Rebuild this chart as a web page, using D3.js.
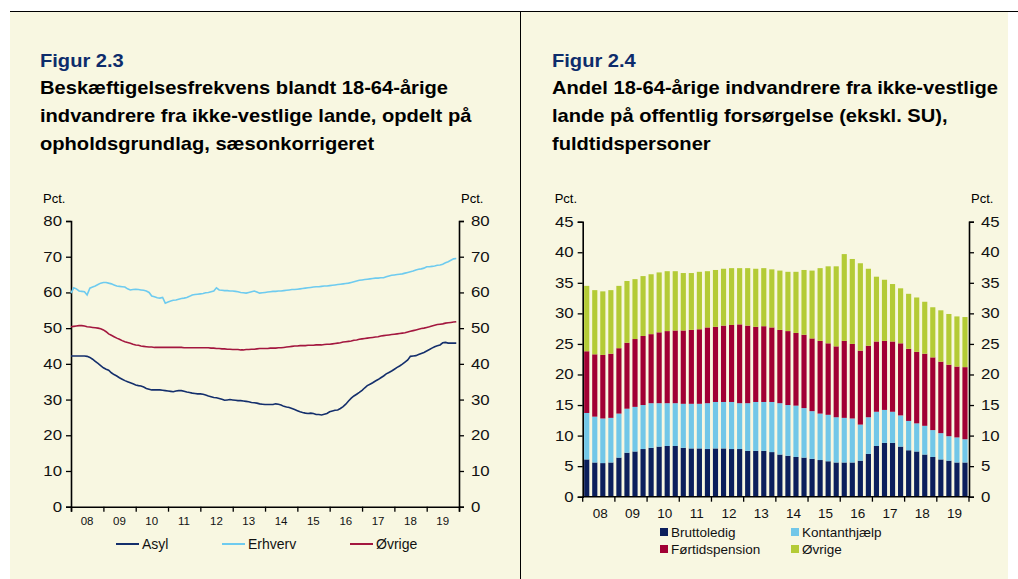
<!DOCTYPE html>
<html>
<head>
<meta charset="utf-8">
<script src="https://cdnjs.cloudflare.com/ajax/libs/d3/7.8.5/d3.min.js"></script>
<style>
  body { margin: 0; background: #fff; }
  svg { display: block; font-family: "Liberation Sans", Arial, sans-serif; }
</style>
</head>
<body>
<div id="chart"></div>
<script>
// Figur 2.3 - monthly 2008-2019, pct.
var years = ["08", "09", "10", "11", "12", "13", "14", "15", "16", "17", "18", "19"];

var asyl = [
  42.2, 42.2, 42.2, 42.2, 42.2, 42.2, 42.1, 41.8, 41.3, 40.7, 40.1, 39.5,
  38.9, 38.5, 38.2, 37.5, 37.0, 36.6, 36.1, 35.7, 35.3, 35.0, 34.7, 34.4,
  34.1, 33.9, 33.8, 33.5, 33.1, 32.9, 32.7, 32.7, 32.7, 32.7, 32.6, 32.5,
  32.4, 32.3, 32.2, 32.4, 32.5, 32.5, 32.3, 32.1, 32.0, 31.8, 31.7, 31.6,
  31.6, 31.5, 31.3, 31.0, 30.8, 30.6, 30.5, 30.3, 30.1, 29.8, 29.9, 30.0,
  29.9, 29.8, 29.7, 29.7, 29.6, 29.5, 29.4, 29.2, 29.1, 29.0, 28.8, 28.7,
  28.6, 28.6, 28.6, 28.6, 28.8, 28.7, 28.5, 28.1, 27.9, 27.8, 27.5, 27.2,
  26.9, 26.6, 26.4, 26.2, 26.1, 26.2, 26.1, 25.8, 25.8, 25.7, 25.9, 26.1,
  26.6, 26.8, 27.0, 27.1, 27.5, 28.0, 28.7, 29.6, 30.4, 31.0, 31.5, 32.0,
  32.6, 33.3, 33.9, 34.3, 34.7, 35.2, 35.6, 36.1, 36.6, 37.2, 37.6, 38.0,
  38.5, 39.0, 39.4, 39.9, 40.5, 41.1, 42.1, 42.2, 42.3, 42.6, 42.9, 43.2,
  43.6, 44.0, 44.4, 44.8, 45.1, 45.3, 45.9, 46.0, 45.8, 45.8, 45.8, 45.8
];

var erhverv = [
  59.8, 61.3, 61.0, 60.4, 60.3, 60.2, 59.3, 61.2, 61.5, 61.8, 62.2, 62.6,
  62.8, 62.8, 62.6, 62.4, 62.1, 61.8, 61.7, 61.6, 61.5, 61.0, 60.7, 60.8,
  60.9, 60.8, 60.7, 60.6, 60.4, 60.0, 59.0, 58.8, 58.5, 58.4, 58.6, 57.0,
  57.3, 57.6, 57.8, 57.9, 58.1, 58.3, 58.4, 58.6, 58.9, 59.3, 59.4, 59.5,
  59.6, 59.7, 59.9, 60.0, 60.2, 60.4, 61.3, 60.7, 60.6, 60.5, 60.5, 60.4,
  60.4, 60.3, 60.2, 60.0, 59.9, 59.8, 60.0, 60.2, 60.4, 60.1, 59.8, 59.9,
  60.0, 60.1, 60.2, 60.3, 60.3, 60.4, 60.4, 60.5, 60.6, 60.7, 60.8, 60.8,
  60.9, 61.0, 61.1, 61.2, 61.3, 61.4, 61.5, 61.6, 61.6, 61.7, 61.8, 61.8,
  61.9, 62.0, 62.1, 62.2, 62.3, 62.4, 62.5, 62.6, 62.8, 63.0, 63.2, 63.4,
  63.5, 63.6, 63.7, 63.8, 63.9, 64.0, 64.0, 64.1, 64.1, 64.4, 64.6, 64.8,
  64.9, 65.0, 65.1, 65.2, 65.4, 65.6, 65.8, 66.0, 66.3, 66.5, 66.6, 66.8,
  67.2, 67.2, 67.3, 67.4, 67.6, 67.7, 67.9, 68.3, 68.6, 69.0, 69.4, 69.5
];

var ovrige_line = [
  50.4, 50.5, 50.6, 50.7, 50.7, 50.6, 50.4, 50.3, 50.2, 50.1, 50.0, 49.8,
  49.5, 49.0, 48.4, 48.0, 47.6, 47.2, 46.9, 46.5, 46.2, 46.0, 45.8, 45.5,
  45.3, 45.2, 45.0, 44.9, 44.8, 44.7, 44.7, 44.6, 44.6, 44.6, 44.6, 44.6,
  44.6, 44.6, 44.6, 44.6, 44.6, 44.6, 44.5, 44.5, 44.5, 44.5, 44.5, 44.5,
  44.5, 44.5, 44.5, 44.5, 44.4, 44.4, 44.3, 44.3, 44.2, 44.2, 44.1, 44.1,
  44.0, 44.0, 44.0, 43.9, 43.9, 44.0, 44.0, 44.1, 44.1, 44.2, 44.3, 44.3,
  44.3, 44.3, 44.4, 44.4, 44.4, 44.5, 44.5, 44.6, 44.7, 44.8, 44.9, 45.0,
  45.0, 45.1, 45.1, 45.1, 45.2, 45.2, 45.2, 45.3, 45.3, 45.3, 45.4, 45.5,
  45.5, 45.6, 45.7, 45.8, 45.9, 46.1, 46.2, 46.3, 46.4, 46.6, 46.7, 46.9,
  47.0, 47.1, 47.2, 47.3, 47.4, 47.5, 47.6, 47.8, 47.9, 48.0, 48.1, 48.2,
  48.3, 48.4, 48.5, 48.6, 48.7, 48.9, 49.1, 49.3, 49.5, 49.7, 49.9, 50.0,
  50.2, 50.4, 50.6, 50.8, 51.0, 51.1, 51.2, 51.4, 51.5, 51.6, 51.7, 51.8
];

// Figur 2.4 - quarterly 2008-2019, pct.
var bruttoledig = [6.1, 5.6, 5.5, 5.6, 6.4, 7.2, 7.4, 7.8, 8.0, 8.2, 8.3, 8.3,
  8.0, 7.9, 7.9, 7.8, 7.9, 7.9, 7.8, 7.8, 7.5, 7.5, 7.5, 7.3,
  6.9, 6.7, 6.5, 6.4, 6.2, 6.0, 5.8, 5.6, 5.6, 5.6, 5.9, 7.0,
  8.3, 8.8, 8.8, 8.2, 7.6, 7.4, 6.9, 6.5, 6.1, 5.9, 5.6, 5.6];
var kontanthjaelp = [7.6, 7.5, 7.3, 7.3, 7.2, 7.2, 7.3, 7.2, 7.3, 7.1, 7.0, 7.0,
  7.2, 7.3, 7.3, 7.5, 7.6, 7.6, 7.7, 7.5, 7.8, 8.0, 8.0, 8.2,
  8.4, 8.3, 8.4, 8.1, 7.8, 7.6, 7.6, 7.4, 7.3, 7.2, 5.9, 6.0,
  5.6, 5.4, 5.1, 5.1, 4.8, 4.6, 4.7, 4.4, 4.3, 4.0, 4.1, 3.8];
var fortidspension = [10.1, 10.2, 10.4, 10.5, 10.7, 10.8, 11.1, 11.3, 11.3, 11.6, 11.8, 11.9,
  12.0, 12.1, 12.2, 12.4, 12.3, 12.5, 12.6, 12.9, 12.7, 12.3, 12.4, 12.2,
  12.0, 12.1, 11.9, 12.0, 11.9, 11.9, 11.7, 11.6, 12.6, 12.2, 12.1, 11.7,
  11.5, 11.3, 11.5, 11.8, 11.8, 11.7, 11.8, 11.9, 11.7, 11.7, 11.6, 11.8];
var ovrige_bar = [10.7, 10.5, 10.4, 10.4, 10.2, 10.1, 9.8, 9.8, 9.8, 9.8, 9.8, 9.7,
  9.4, 9.3, 9.4, 9.2, 9.3, 9.3, 9.3, 9.2, 9.4, 9.5, 9.5, 9.5,
  9.7, 9.7, 10.0, 10.6, 11.1, 11.9, 12.6, 13.1, 14.2, 13.9, 14.3, 12.6,
  10.6, 10.0, 9.4, 9.0, 9.0, 8.9, 8.5, 8.2, 8.4, 8.3, 8.2, 8.2];

var line_series = [
  { name: "Asyl", values: asyl, color: "#142f6c" },
  { name: "Erhverv", values: erhverv, color: "#6ecbef" },
  { name: "Øvrige", values: ovrige_line, color: "#a3173f" }
];
var bar_series = [
  { name: "Bruttoledig", values: bruttoledig, color: "#0c1f5c" },
  { name: "Kontanthjælp", values: kontanthjaelp, color: "#72c7e8" },
  { name: "Førtidspension", values: fortidspension, color: "#a10034" },
  { name: "Øvrige", values: ovrige_bar, color: "#b4cb36" }
];

var width = 1018;
var height = 579;
var bg = "#f8f7e1";
var title_blue = "#0d2c6b";
var stretch = 1.2;        // tick text in the source is set a little wide
var title_stretch = 1.15;

var svg = d3.select("#chart").append("svg")
  .attr("width", width)
  .attr("height", height);

svg.append("rect")
  .attr("x", 10).attr("y", 11)
  .attr("width", 998).attr("height", height - 11)
  .attr("fill", bg);
svg.append("line")
  .attr("x1", 10).attr("x2", 1018).attr("y1", 11.5).attr("y2", 11.5)
  .attr("stroke", "#000").attr("stroke-width", 1);
svg.append("line")
  .attr("x1", 520.5).attr("x2", 520.5).attr("y1", 11).attr("y2", height)
  .attr("stroke", "#000").attr("stroke-width", 1);

function title(x, fig, lines) {
  var g = svg.append("g");
  g.append("text")
    .attr("transform", "translate(" + x + ",67) scale(" + title_stretch + ",1)")
    .attr("fill", title_blue)
    .attr("font-size", 17.5).attr("font-weight", "bold").text(fig);
  lines.forEach(function (l, i) {
    g.append("text")
      .attr("transform", "translate(" + x + "," + (94 + i * 28) + ") scale(" + title_stretch + ",1)")
      .attr("fill", "#000")
      .attr("font-size", 17.5).attr("font-weight", "bold").text(l);
  });
}

title(40, "Figur 2.3", ["Beskæftigelsesfrekvens blandt 18-64-årige",
  "indvandrere fra ikke-vestlige lande, opdelt på",
  "opholdsgrundlag, sæsonkorrigeret"]);
title(552, "Figur 2.4", ["Andel 18-64-årige indvandrere fra ikke-vestlige",
  "lande på offentlig forsørgelse (ekskl. SU),",
  "fuldtidspersoner"]);

function widen(sel) {
  // stretch tick text horizontally but keep its anchor point
  sel.each(function () {
    var t = d3.select(this);
    var x = +t.attr("x") || 0;
    t.attr("x", x / stretch).attr("transform", "scale(" + stretch + ",1)");
  });
}

function yAxes(g, y, x0, x1, ticks, pctY) {
  g.append("g")
    .attr("transform", "translate(" + x0 + ",0)")
    .call(d3.axisLeft(y).tickValues(ticks).tickSize(5).tickPadding(4));
  g.append("g")
    .attr("transform", "translate(" + x1 + ",0)")
    .call(d3.axisRight(y).tickValues(ticks).tickSize(5).tickPadding(7));
  g.selectAll(".domain").attr("stroke-width", 1.6);
  g.selectAll(".tick line").attr("stroke-width", 1.3);
  g.selectAll(".tick text").attr("font-size", 14).attr("fill", "#111")
    .attr("font-family", "Liberation Sans, Arial, sans-serif")
    .call(widen);
  g.append("text").attr("x", x0 - 28).attr("y", pctY).attr("font-size", 13).text("Pct.");
  g.append("text").attr("x", x1 + 2).attr("y", pctY).attr("font-size", 13).text("Pct.");
}

// ---- Figur 2.3: lines
var left = svg.append("g");
var lx0 = 71, lx1 = 459, ly0 = 506.7, ly1 = 221;
var months = d3.range(asyl.length).map(function (i) { return new Date(2008, i, 1); });
var xl = d3.scaleTime().domain([new Date(2008, 0, 1), new Date(2020, 0, 1)]).range([lx0, lx1]);
var yl = d3.scaleLinear().domain([0, 80]).range([ly0, ly1]);

yAxes(left, yl, lx0, lx1, d3.range(0, 81, 10), 203);

var yearStarts = d3.range(2008, 2021).map(function (y) { return new Date(y, 0, 1); });
left.append("g")
  .attr("transform", "translate(0," + ly0 + ")")
  .call(d3.axisBottom(xl).tickValues(yearStarts).tickSize(5).tickFormat(""))
  .call(function (a) {
    a.select(".domain").attr("stroke-width", 1.6);
    a.selectAll(".tick line").attr("stroke-width", 1.3);
  });
left.selectAll(".xlab").data(years).enter().append("text")
  .attr("class", "xlab")
  .attr("x", function (d, i) { return xl(new Date(2008 + i, 6, 1)); })
  .attr("y", ly0 + 18)
  .attr("text-anchor", "middle")
  .attr("font-size", 11.5)
  .attr("fill", "#111")
  .text(function (d) { return d; });

var line = d3.line()
  .x(function (d, i) { return xl(months[i]); })
  .y(function (d) { return yl(d); });

left.selectAll(".series").data(line_series).enter().append("path")
  .attr("class", "series")
  .attr("fill", "none")
  .attr("stroke", function (s) { return s.color; })
  .attr("stroke-width", 1.6)
  .attr("d", function (s) { return line(s.values); });

var legX = [116, 222, 350];
var leg = left.selectAll(".leg").data(line_series).enter().append("g")
  .attr("class", "leg")
  .attr("transform", function (d, i) { return "translate(" + legX[i] + ",544)"; });
leg.append("line").attr("x1", 0).attr("x2", 23).attr("y1", 0).attr("y2", 0)
  .attr("stroke", function (d) { return d.color; }).attr("stroke-width", 2);
leg.append("text").attr("x", 26).attr("y", 5).attr("font-size", 14).attr("fill", "#111")
  .text(function (d) { return d.name; });

// ---- Figur 2.4: stacked bars
var right = svg.append("g");
var rx0 = 582.7, rx1 = 969, ry0 = 496.7, ry1 = 221.7;
var quarters = d3.range(bruttoledig.length);
var xr = d3.scaleBand().domain(quarters).range([rx0, rx1]).paddingInner(0.36).paddingOuter(0.18);
var yr = d3.scaleLinear().domain([0, 45]).range([ry0, ry1]);

var stackData = quarters.map(function (q) {
  var o = { q: q };
  bar_series.forEach(function (s) { o[s.name] = s.values[q]; });
  return o;
});
var stacked = d3.stack().keys(bar_series.map(function (s) { return s.name; }))(stackData);

right.selectAll(".layer").data(stacked).enter().append("g")
  .attr("class", "layer")
  .attr("fill", function (d, i) { return bar_series[i].color; })
  .selectAll("rect").data(function (d) { return d; }).enter().append("rect")
  .attr("x", function (d) { return xr(d.data.q); })
  .attr("width", xr.bandwidth())
  .attr("y", function (d) { return yr(d[1]); })
  .attr("height", function (d) { return yr(d[0]) - yr(d[1]); });

yAxes(right, yr, rx0, rx1, d3.range(0, 46, 5), 203);

var step = xr.step();
var yearTicks = d3.range(0, 13).map(function (k) { return rx0 + k * 4 * step; });
var xax = right.append("g").attr("transform", "translate(0," + ry0 + ")");
xax.append("line").attr("x1", rx0).attr("x2", rx1).attr("stroke", "#000").attr("stroke-width", 1.6);
xax.selectAll(".yt").data(yearTicks).enter().append("line")
  .attr("x1", function (d) { return d; }).attr("x2", function (d) { return d; })
  .attr("y1", 0).attr("y2", 5).attr("stroke", "#000").attr("stroke-width", 1.3);
right.selectAll(".xlab").data(years).enter().append("text")
  .attr("class", "xlab")
  .attr("x", function (d, i) { return rx0 + (i * 4 + 2) * step + 1.5; })
  .attr("y", ry0 + 21)
  .attr("text-anchor", "middle")
  .attr("font-size", 13.5)
  .attr("fill", "#111")
  .text(function (d) { return d; });

var rlegPos = [[660, 532], [791, 532], [660, 549], [791, 549]];
var legOrder = [0, 1, 2, 3];
var rleg = right.selectAll(".rleg").data(legOrder).enter().append("g")
  .attr("class", "rleg")
  .attr("transform", function (d) { return "translate(" + rlegPos[d][0] + "," + rlegPos[d][1] + ")"; });
rleg.append("rect").attr("x", 0).attr("y", -4).attr("width", 8).attr("height", 8)
  .attr("fill", function (d) { return bar_series[d].color; });
rleg.append("text").attr("x", 11).attr("y", 5).attr("font-size", 13.5).attr("fill", "#111")
  .text(function (d) { return bar_series[d].name; });
</script>
</body>
</html>
